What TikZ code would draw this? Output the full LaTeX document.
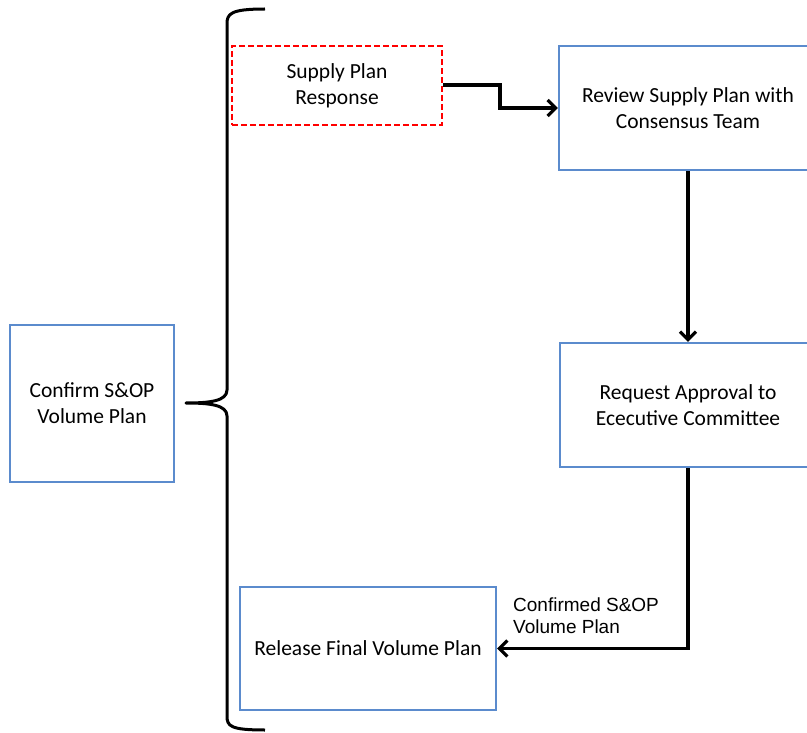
\documentclass[tikz,border=0pt]{standalone}
\usepackage{fontspec}
\setmainfont{Carlito}
\newfontfamily\labelfont{Liberation Sans}
\usetikzlibrary{arrows.meta}
\definecolor{boxblue}{RGB}{91,139,205}
\tikzset{
    box/.style={draw=boxblue,line width=2.4pt,inner sep=0pt,align=center,
        font=\fontsize{21.5}{26}\selectfont},
    dashbox/.style={box,draw=red,dashed,dash pattern=on 6pt off 3pt},
    flow/.style={line width=3.2pt,-{Straight Barb[length=8pt,width=16pt,line width=3.2pt]}}
}
\begin{document}
\begin{tikzpicture}[x=1pt,y=-1pt]
        \useasboundingbox (0,0) rectangle (807,733);
        \node[box,minimum width=164pt,minimum height=157pt] (confirm) at (92,403.5) {Confirm S\&OP\\Volume Plan};
        \node[dashbox,minimum width=210pt,minimum height=79pt] (supply) at (337,85.5) {Supply Plan\\Response};
        \node[box,minimum width=258pt,minimum height=124pt] (review) at (688,108) {Review Supply Plan with\\Consensus Team};
        \node[box,minimum width=256pt,minimum height=124pt] (request) at (688,405) {Request Approval to\\Ececutive Committee};
        \node[box,minimum width=256pt,minimum height=123pt] (release) at (368,648.5) {Release Final Volume Plan};
        % brace
        \draw[line width=3pt,line join=round]
            (265,9) .. controls (230,9) and (227,14) .. (227,24) -- (227,390)
            .. controls (227,401) and (210,403) .. (186,403)
            .. controls (210,403) and (227,405) .. (227,416) -- (227,716)
            .. controls (227,726) and (230,730) .. (265,730);
        % connectors
        \coordinate (bend) at (500,85);
        \draw[flow] (supply.east |- bend) -- (bend) -- (bend |- review.west) -- (review.west);
        \draw[flow] (review.south) -- (request.north);
        \draw[flow] (request.south) |- (release.east);
        \node[anchor=south west,align=left,font=\labelfont\fontsize{19}{22}\selectfont,inner sep=0pt] (lbl) at (513,634) {Confirmed S\&OP\\Volume Plan};
    \end{tikzpicture}
\end{document}
